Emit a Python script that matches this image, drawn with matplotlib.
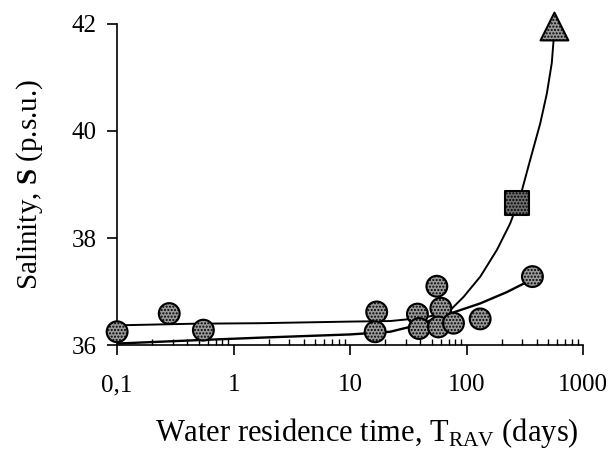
import numpy as np
import matplotlib.pyplot as plt
from matplotlib.ticker import FixedLocator, FixedFormatter, LogLocator, NullFormatter

plt.rcParams['font.family'] = ['Liberation Serif', 'DejaVu Serif']
plt.rcParams['mathtext.fontset'] = 'custom'
plt.rcParams['mathtext.rm'] = 'Liberation Serif'
plt.rcParams['mathtext.bf'] = 'Liberation Serif:bold'
plt.rcParams['hatch.linewidth'] = 1.0

# measured points (days, psu)
circle_days = [0.1, 0.28, 0.55, 16.9, 16.4, 37.8, 39.1, 55.5, 60.1, 57.3, 77.1, 130.6, 367]
circle_sal = [36.25, 36.59, 36.28, 36.62, 36.25, 36.58, 36.31, 37.10, 36.69, 36.34, 36.41, 36.49, 37.28]
square_days = [271]
square_sal = [38.65]
triangle_days = [567]
triangle_sal = [41.95]

# trend curves
curve1_days = [0.1, 0.45, 1.7, 10, 22, 42, 60, 72, 94, 131, 182, 236, 288, 351, 428, 488, 538, 567]
curve1_sal = [36.37, 36.40, 36.41, 36.44, 36.45, 36.51, 36.58, 36.65, 36.90, 37.28, 37.78, 38.27, 38.77, 39.46, 40.14, 40.70, 41.27, 41.90]
curve2_days = [0.1, 0.45, 1.7, 10, 22, 37, 72, 131, 221, 329, 367]
curve2_sal = [36.03, 36.09, 36.14, 36.20, 36.25, 36.37, 36.59, 36.78, 36.99, 37.18, 37.28]

xticks = [0.1, 1, 10, 100, 1000]
xtick_labels = ['0,1', '1', '10', '100', '1000']
yticks = [36, 38, 40, 42]

fig = plt.figure(figsize=(6.1, 4.5), dpi=100)
ax = fig.add_axes([0.192, 0.233, 0.764, 0.714])

ax.plot(curve1_days, curve1_sal, color='black', lw=1.4, zorder=2)
ax.plot(curve2_days, curve2_sal, color='black', lw=1.7, zorder=2)

ax.scatter(circle_days, circle_sal, s=15**2, marker='o', facecolor='#9a9a9a',
           edgecolor='black', linewidth=1.5, hatch='.....', zorder=3, clip_on=False)
ax.scatter(square_days, square_sal, s=17**2, marker='s', facecolor='#6e6e6e',
           edgecolor='black', linewidth=1.5, hatch='.....', zorder=3, clip_on=False)
ax.scatter(triangle_days, triangle_sal, s=20**2, marker='^', facecolor='#9a9a9a',
           edgecolor='black', linewidth=1.5, hatch='.....', zorder=3, clip_on=False)

ax.set_xscale('log')
ax.set_xlim(0.1, 1000)
ax.set_ylim(36, 42)

ax.xaxis.set_major_locator(FixedLocator(xticks))
ax.xaxis.set_major_formatter(FixedFormatter(xtick_labels))
ax.xaxis.set_minor_locator(LogLocator(base=10, subs=np.arange(2, 10)))
ax.xaxis.set_minor_formatter(NullFormatter())
ax.set_yticks(yticks)

ax.spines['top'].set_visible(False)
ax.spines['right'].set_visible(False)
for s in ['left', 'bottom']:
    ax.spines[s].set_linewidth(1.2)

ax.tick_params(axis='x', which='major', direction='out', length=7, width=1.2, pad=14, labelsize=18)
ax.tick_params(axis='x', which='minor', direction='in', length=4, width=1.0)
ax.tick_params(axis='y', which='major', direction='out', length=7, width=1.2, pad=8, labelsize=18)

ax.set_xlabel(r'Water residence time, T$_{\rm RAV}$ (days)', fontsize=22)
ax.set_ylabel(r'Salinity, $\mathbf{S}$ (p.s.u.)', fontsize=21)
ax.xaxis.set_label_coords(0.535, -0.222)
ax.yaxis.set_label_coords(-0.155, 0.5)

fig.savefig('out.png', dpi=100)
